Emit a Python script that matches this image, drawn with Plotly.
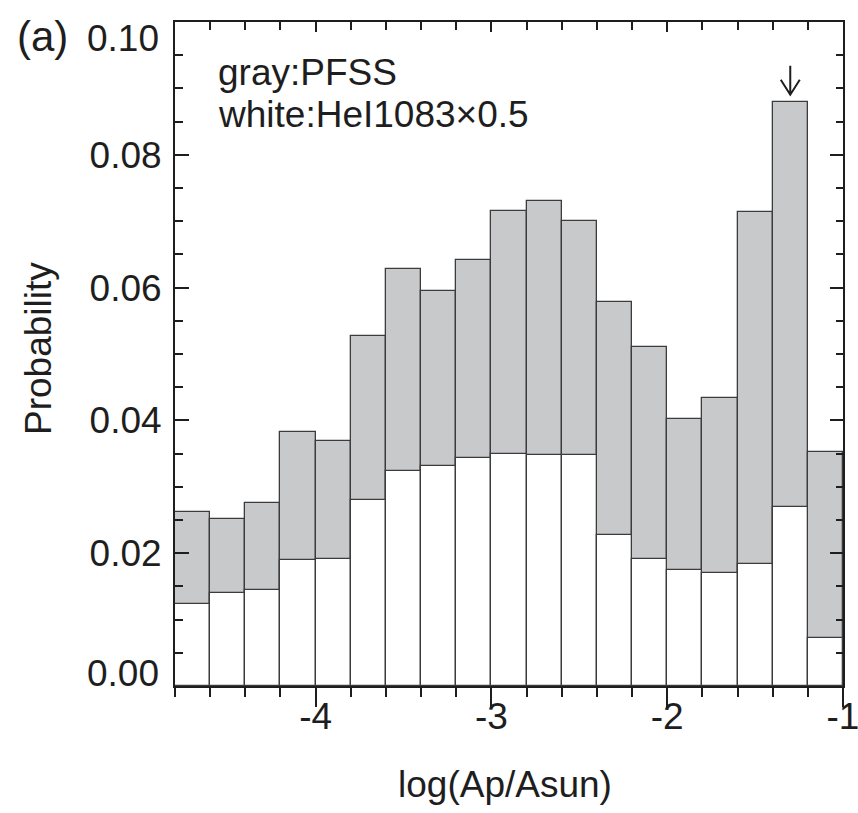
import plotly.graph_objects as go

# Bin centres of log(Ap/Asun), bin width 0.2
bin_centers = [-4.7, -4.5, -4.3, -4.1, -3.9, -3.7, -3.5, -3.3, -3.1, -2.9,
               -2.7, -2.5, -2.3, -2.1, -1.9, -1.7, -1.5, -1.3, -1.1]
bin_width = 0.2

# Probability per bin, PFSS open-field areas (gray)
pfss_prob = [0.0262, 0.0252, 0.0275, 0.0382, 0.0369, 0.0527, 0.0628, 0.0595, 0.0641, 0.0716,
             0.0730, 0.0700, 0.0579, 0.0511, 0.0402, 0.0434, 0.0714, 0.0880, 0.0353]

# Probability per bin, HeI 1083 coronal holes, drawn scaled by 0.5 (white)
hei_prob = [0.0247, 0.0279, 0.0290, 0.0380, 0.0382, 0.0560, 0.0648, 0.0664, 0.0686, 0.0700,
            0.0696, 0.0696, 0.0454, 0.0384, 0.0350, 0.0340, 0.0366, 0.0540, 0.0144]
hei_scale = 0.5

x_range = [-4.8, -1.0]
y_range = [0.0, 0.10]
y_tick_vals = [0.00, 0.02, 0.04, 0.06, 0.08, 0.10]
y_tick_text = ["", "0.02", "0.04", "0.06", "0.08", ""]
x_tick_vals = [-4, -3, -2, -1]
x_tick_text = ["-4", "-3", "-2", "-1"]

W, H = 858, 813
ML, MR, MT, MB = 175, 15, 22, 127
PW, PH = W - ML - MR, H - MT - MB

FONT = "Liberation Sans, Arial, Helvetica, sans-serif"
FS = 37
INK = "#1e1e1e"
EDGE = "#3c3c3c"
GRAY = "#c8c9cb"


def px_x(px):
    """page pixel column -> paper x"""
    return (px - ML) / PW


def px_y(py):
    """page pixel row -> paper y"""
    return (H - MB - py) / PH


fig = go.Figure()

fig.add_trace(go.Bar(
    x=bin_centers, y=pfss_prob, width=bin_width,
    marker=dict(color=GRAY, line=dict(color=EDGE, width=1.3)),
    showlegend=False, hoverinfo="skip",
))
fig.add_trace(go.Bar(
    x=bin_centers, y=[v * hei_scale for v in hei_prob], width=bin_width,
    marker=dict(color="white", line=dict(color=EDGE, width=1.3)),
    showlegend=False, hoverinfo="skip",
))
# carrier trace so the top/right mirror axes get drawn
fig.add_trace(go.Scatter(x=[None], y=[None], xaxis="x2", yaxis="y2",
                         showlegend=False, hoverinfo="skip"))

axis_font = dict(family=FONT, size=FS, color=INK)

fig.update_layout(
    width=W, height=H,
    margin=dict(l=ML, r=MR, t=MT, b=MB, pad=0, autoexpand=False),
    paper_bgcolor="white", plot_bgcolor="white",
    barmode="overlay", bargap=0,
    font=axis_font,
    xaxis=dict(
        range=x_range, tickmode="array", tickvals=x_tick_vals, ticktext=x_tick_text,
        ticks="outside", ticklen=19, tickwidth=2, tickcolor=INK,
        minor=dict(ticks="outside", ticklen=9, tickwidth=1.5, tickcolor=INK,
                   tickmode="linear", tick0=-5, dtick=0.2, showgrid=False),
        showline=True, linecolor=INK, linewidth=2, showgrid=False, zeroline=False,
        tickfont=axis_font, ticklabelstandoff=-22, ticklabeloverflow="allow",
        automargin=False,
    ),
    xaxis2=dict(
        range=x_range, overlaying="x", side="top", tickmode="linear", tick0=-5, dtick=1,
        ticks="inside", ticklen=10, tickwidth=1.5, tickcolor=INK,
        minor=dict(ticks="inside", ticklen=8, tickwidth=1.5, tickcolor=INK,
                   tickmode="linear", tick0=-5, dtick=0.2, showgrid=False),
        showticklabels=False, showline=True, linecolor=INK, linewidth=2,
        showgrid=False, zeroline=False, automargin=False,
    ),
    yaxis=dict(
        range=y_range, tickmode="array", tickvals=y_tick_vals, ticktext=y_tick_text,
        ticks="inside", ticklen=14, tickwidth=2, tickcolor=INK,
        minor=dict(ticks="inside", ticklen=8, tickwidth=1.5, tickcolor=INK,
                   tickmode="linear", tick0=0, dtick=0.005, showgrid=False),
        showline=True, linecolor=INK, linewidth=2, showgrid=False, zeroline=False,
        tickfont=axis_font, ticklabelstandoff=4, automargin=False,
    ),
    yaxis2=dict(
        range=y_range, overlaying="y", side="right", tickmode="linear", tick0=0, dtick=0.02,
        ticks="inside", ticklen=13, tickwidth=2, tickcolor=INK,
        minor=dict(ticks="inside", ticklen=7, tickwidth=1.5, tickcolor=INK,
                   tickmode="linear", tick0=0, dtick=0.005, showgrid=False),
        showticklabels=False, showline=True, linecolor=INK, linewidth=2,
        showgrid=False, zeroline=False, automargin=False,
    ),
)

# axis titles
fig.add_annotation(text="log(Ap/Asun)", x=px_x(505), y=px_y(784), xref="paper", yref="paper",
                   xanchor="center", yanchor="middle", showarrow=False, font=axis_font)
fig.add_annotation(text="Probability", x=px_x(38), y=px_y(349), xref="paper", yref="paper",
                   xanchor="center", yanchor="middle", textangle=-90,
                   showarrow=False, font=axis_font)

# end labels of the y axis sit inside the axis extent
fig.add_annotation(text="0.00", x=0, xref="paper", xanchor="right", xshift=-14,
                   y=y_range[0], yref="y", yanchor="middle", yshift=13,
                   showarrow=False, font=axis_font)
fig.add_annotation(text="0.10", x=0, xref="paper", xanchor="right", xshift=-14,
                   y=y_range[1], yref="y", yanchor="middle", yshift=-16,
                   showarrow=False, font=axis_font)

# panel tag
fig.add_annotation(text="(a)", x=px_x(15), y=px_y(37), xref="paper", yref="paper",
                   xanchor="left", yanchor="middle", showarrow=False,
                   font=dict(family=FONT, size=42, color=INK))

# key text inside the frame
fig.add_annotation(text="gray:PFSS", x=px_x(216), y=px_y(73), xref="paper", yref="paper",
                   xanchor="left", yanchor="middle", showarrow=False, font=axis_font)
fig.add_annotation(text="white:HeI1083\u00d70.5", x=px_x(216), y=px_y(115),
                   xref="paper", yref="paper",
                   xanchor="left", yanchor="middle", showarrow=False, font=axis_font)

# arrow marking the peak bin of the PFSS distribution
peak = max(range(len(pfss_prob)), key=lambda i: pfss_prob[i])
fig.add_shape(type="path", xref="x", yref="y",
              xsizemode="pixel", ysizemode="pixel",
              xanchor=bin_centers[peak], yanchor=pfss_prob[peak],
              path="M0,36 L0,7 M-9.5,22 L0,7 L9.5,22",
              line=dict(color=INK, width=2))

fig.write_html("out.html")
